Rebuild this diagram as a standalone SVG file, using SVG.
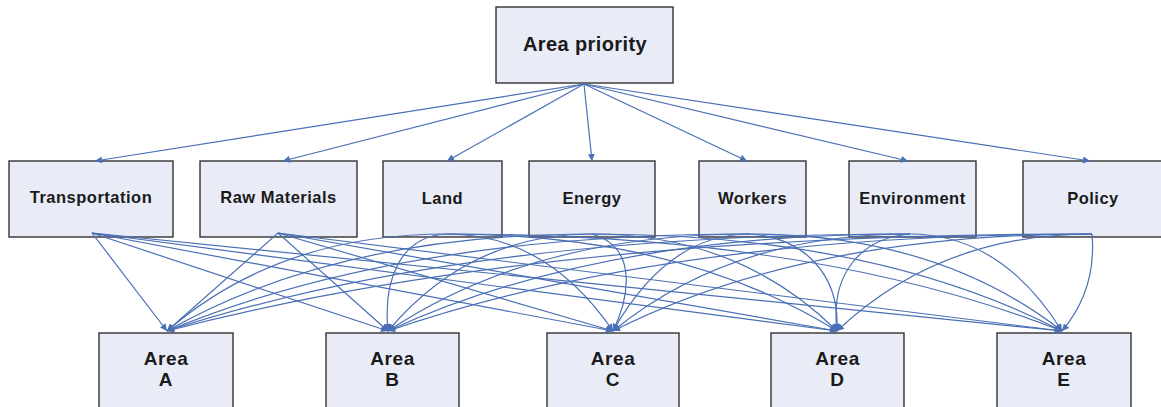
<svg xmlns="http://www.w3.org/2000/svg" width="1161" height="407" viewBox="0 0 1161 407">
<style>
.box{fill:#e9ecf7;stroke:#333;stroke-width:1.4}
.t{font-family:"Liberation Sans",Arial,sans-serif;font-weight:bold;fill:#1a1a1a;text-anchor:middle}
.top{font-size:20px;letter-spacing:0.4px}
.mid{font-size:16.5px;letter-spacing:0.5px}
.bot{font-size:19px;letter-spacing:0.6px}
.c{fill:none;stroke:#4a6fb5;stroke-width:1.2;marker-end:url(#ah)}
</style>
<defs>
<marker id="ah" viewBox="0 0 10 10" refX="10" refY="5" markerWidth="9" markerHeight="7" markerUnits="userSpaceOnUse" orient="auto">
<path d="M0,0 L10,5 L0,10 z" fill="#4a6fb5"/>
</marker>
</defs>
<rect width="1161" height="407" fill="#fff"/>
<g id="area-priority"><rect class="box" x="496" y="7" width="177" height="76"/><text class="t top" x="585" y="51">Area priority</text></g>
<g id="transportation"><rect class="box" x="9" y="161" width="164" height="76"/><text class="t mid" x="91" y="203">Transportation</text></g>
<g id="raw-materials"><rect class="box" x="200" y="161" width="157" height="76"/><text class="t mid" x="278.5" y="203">Raw Materials</text></g>
<g id="land"><rect class="box" x="383" y="161" width="119" height="76"/><text class="t mid" x="442.5" y="204">Land</text></g>
<g id="energy"><rect class="box" x="529" y="161" width="126" height="76"/><text class="t mid" x="592" y="204">Energy</text></g>
<g id="workers"><rect class="box" x="699" y="161" width="107" height="76"/><text class="t mid" x="752.5" y="204">Workers</text></g>
<g id="environment"><rect class="box" x="849" y="161" width="127" height="76"/><text class="t mid" x="912.5" y="204">Environment</text></g>
<g id="policy"><rect class="box" x="1023" y="161" width="140" height="76"/><text class="t mid" x="1093" y="204">Policy</text></g>
<g id="area-a"><rect class="box" x="99" y="333" width="134" height="80"/><text class="t bot" x="166" y="365">Area</text><text class="t bot" x="166" y="386">A</text></g>
<g id="area-b"><rect class="box" x="326" y="333" width="133" height="80"/><text class="t bot" x="392.5" y="365">Area</text><text class="t bot" x="392.5" y="386">B</text></g>
<g id="area-c"><rect class="box" x="547" y="333" width="132" height="80"/><text class="t bot" x="613" y="365">Area</text><text class="t bot" x="613" y="386">C</text></g>
<g id="area-d"><rect class="box" x="771" y="333" width="133" height="80"/><text class="t bot" x="837.5" y="365">Area</text><text class="t bot" x="837.5" y="386">D</text></g>
<g id="area-e"><rect class="box" x="997" y="333" width="134" height="80"/><text class="t bot" x="1064" y="365">Area</text><text class="t bot" x="1064" y="386">E</text></g>
<g id="connectors">
<line class="c" x1="584" y1="84" x2="95" y2="161"/>
<line class="c" x1="584" y1="84" x2="283" y2="161"/>
<line class="c" x1="584" y1="84" x2="447" y2="161"/>
<line class="c" x1="584" y1="84" x2="592" y2="161"/>
<line class="c" x1="584" y1="84" x2="747" y2="161"/>
<line class="c" x1="584" y1="84" x2="908" y2="161"/>
<line class="c" x1="584" y1="84" x2="1090" y2="161"/>
<line class="c" x1="92" y1="233" x2="167" y2="331"/>
<line class="c" x1="92" y1="233" x2="388" y2="331"/>
<line class="c" x1="92" y1="233" x2="613" y2="331"/>
<line class="c" x1="92" y1="233" x2="837" y2="331"/>
<line class="c" x1="92" y1="233" x2="1062" y2="331"/>
<line class="c" x1="278" y1="233" x2="167" y2="331"/>
<line class="c" x1="278" y1="233" x2="388" y2="331"/>
<line class="c" x1="278" y1="233" x2="613" y2="331"/>
<line class="c" x1="278" y1="233" x2="837" y2="331"/>
<line class="c" x1="278" y1="233" x2="1062" y2="331"/>
<path class="c" d="M447,234 Q279,234 167,331"/>
<path class="c" d="M447,234 C400,236 383,280 388,331"/>
<path class="c" d="M447,234 Q546.6,234 613,331"/>
<path class="c" d="M447,234 Q681,234 837,331"/>
<path class="c" d="M447,234 Q816,234 1062,331"/>
<path class="c" d="M592,234 Q337,234 167,331"/>
<path class="c" d="M592,234 Q469.6,234 388,331"/>
<path class="c" d="M592,234 C640,248 628,300 613,331"/>
<path class="c" d="M592,234 Q739,234 837,331"/>
<path class="c" d="M592,234 Q874,234 1062,331"/>
<path class="c" d="M750,234 Q400.2,234 167,331"/>
<path class="c" d="M750,234 Q532.8,234 388,331"/>
<path class="c" d="M750,234 Q667.8,234 613,331"/>
<path class="c" d="M750,234 C805,238 840,275 837,331"/>
<path class="c" d="M750,234 Q937.2,234 1062,331"/>
<path class="c" d="M910,234 Q464.2,234 167,331"/>
<path class="c" d="M910,234 Q596.8,234 388,331"/>
<path class="c" d="M910,234 Q731.8,234 613,331"/>
<path class="c" d="M910,234 C860,238 830,275 837,331"/>
<path class="c" d="M910,234 Q1001.2,234 1062,331"/>
<path class="c" d="M1092,234 Q537,234 167,331"/>
<path class="c" d="M1092,234 Q669.6,234 388,331"/>
<path class="c" d="M1092,234 Q804.6,234 613,331"/>
<path class="c" d="M1092,234 Q939,234 837,331"/>
<path class="c" d="M1092,234 C1096,280 1078,312 1062,331"/>
</g>
</svg>
